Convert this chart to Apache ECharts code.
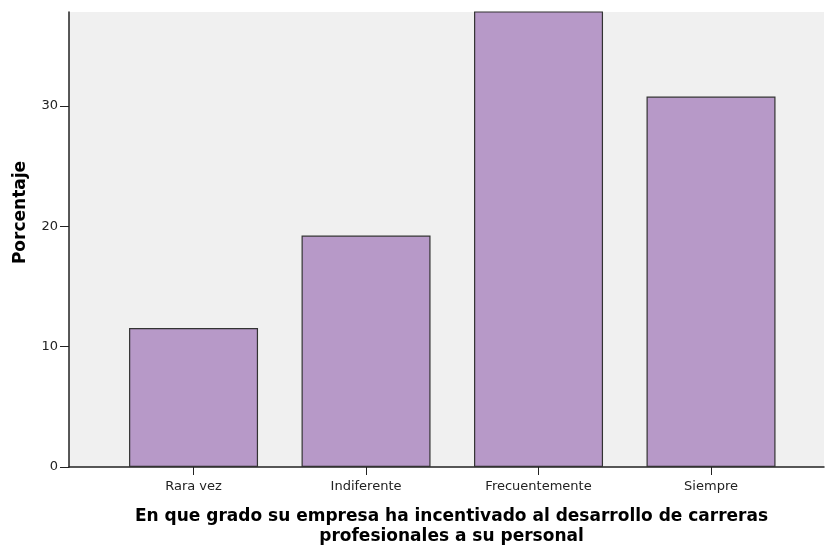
<!DOCTYPE html>
<html><head><meta charset="utf-8">
<script src="https://cdn.jsdelivr.net/npm/echarts@6/dist/echarts.min.js"></script>
<style>html,body{margin:0;padding:0;background:#fff;overflow:hidden}#c{width:825px;height:552px}</style>
</head><body><div id="c"></div>
<script>
const categories = ['Rara vez', 'Indiferente', 'Frecuentemente', 'Siempre'];
const percentages = [11.54, 19.23, 38.46, 30.77];
const yTicks = [0, 10, 20, 30];
const yTitle = 'Porcentaje';
const xTitle = 'En que grado su empresa ha incentivado al desarrollo de carreras\nprofesionales a su personal';

const chart = echarts.init(document.getElementById('c'), null, {renderer: 'canvas'});
const positions = categories.map((c, i) => i);
const tickFont = 'DejaVu Sans, sans-serif';
chart.setOption({
  animation: false,
  grid: {left: 69, top: 12, right: 1, bottom: 80, show: true, backgroundColor: '#f0f0f0', borderWidth: 0},
  xAxis: {
    type: 'value', min: -0.722, max: 3.655,
    splitLine: {show: false},
    axisLine: {show: true, onZero: false, lineStyle: {color: '#222', width: 1.5}},
    axisTick: {show: true, customValues: positions, length: 8, lineStyle: {color: '#222', width: 1}},
    axisLabel: {show: true, customValues: positions, margin: 13, color: '#222', fontSize: 13,
      fontFamily: tickFont,
      formatter: v => categories[Math.round(v)] || ''},
    name: xTitle, nameLocation: 'middle', nameGap: 40,
    nameTextStyle: {fontWeight: 'bold', fontSize: 17, color: '#000', lineHeight: 20, padding: [0, 0, 0, 10],
      fontFamily: tickFont}
  },
  yAxis: {
    type: 'value', min: 0, max: 37.8, interval: 10,
    splitLine: {show: false},
    axisLine: {show: true, onZero: false, lineStyle: {color: '#222', width: 1.5}},
    axisTick: {show: true, length: 9, lineStyle: {color: '#222', width: 1}},
    axisLabel: {showMaxLabel: false, margin: 11, color: '#222', fontSize: 13,
      fontFamily: tickFont, formatter: v => (yTicks.indexOf(v) >= 0 ? String(v) : '')},
    name: yTitle, nameLocation: 'middle', nameGap: 40, nameRotate: 90,
    nameTextStyle: {fontWeight: 'bold', fontSize: 17, color: '#000', padding: [0, 0, 0, 54],
      fontFamily: tickFont}
  },
  series: [{
    type: 'bar', barWidth: 129, clip: true,
    data: percentages.map((v, i) => [positions[i], v]),
    itemStyle: {color: '#b799c8', borderColor: '#333', borderWidth: 1.2}
  }]
});
</script></body></html>
